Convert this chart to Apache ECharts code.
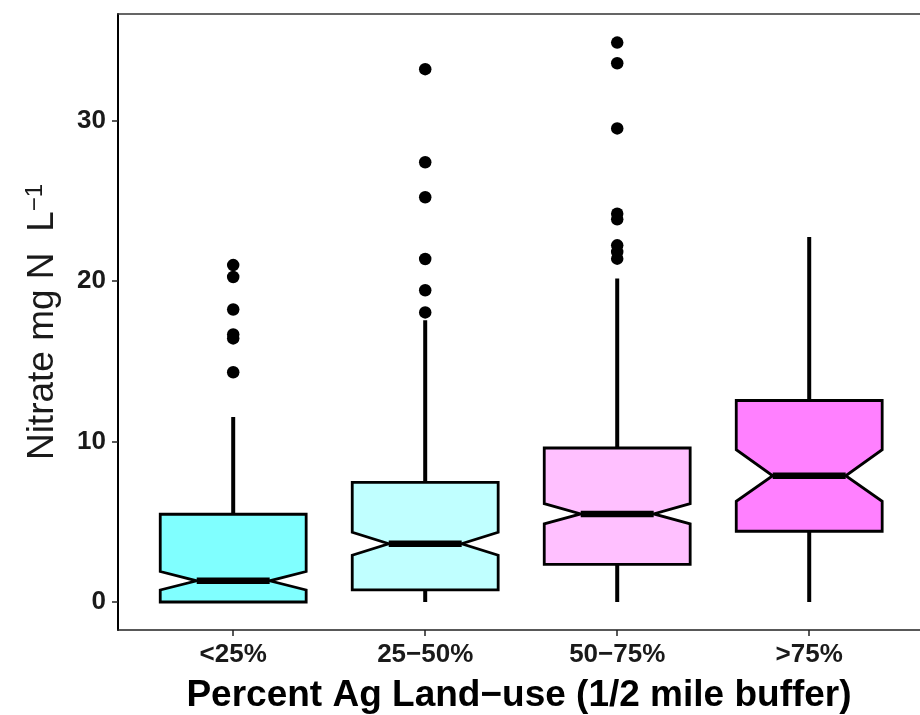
<!DOCTYPE html>
<html>
<head>
<meta charset="utf-8">
<script src="https://cdn.jsdelivr.net/npm/echarts@6/dist/echarts.min.js"></script>
<style>
html,body{margin:0;padding:0;background:#fff;}
#chart{width:920px;height:715px;}
</style>
</head>
<body>
<div id="chart"></div>
<script>
// ---- data ----
var categories = ['<25%', '25\u221250%', '50\u221275%', '>75%'];
var whiskerLow  = [0, 0, 0, 0];
var q1          = [0, 0.75, 2.34, 4.41];
var notchLow    = [0.75, 2.92, 4.87, 6.28];
var median      = [1.32, 3.63, 5.49, 7.87];
var notchHigh   = [1.9, 4.35, 6.13, 9.49];
var q3          = [5.47, 7.46, 9.6, 12.56];
var whiskerHigh = [11.53, 17.56, 20.16, 22.75];
var outliers0 = [21.0, 20.26, 18.23, 16.68, 16.43, 14.32];
var outliers1 = [33.21, 27.41, 25.23, 21.38, 19.43, 18.05];
var outliers2 = [34.87, 33.58, 29.52, 24.2, 23.85, 22.23, 21.82, 21.4];
var outliers3 = [];
var yTicks = [0, 10, 20, 30];
var boxColors = ['#80FFFF', '#C0FFFF', '#FFC0FF', '#FF80FF'];

// ---- build ----
var outlierLists = [outliers0, outliers1, outliers2, outliers3];
var boxData = categories.map(function (c, i) {
  return [i + 1, whiskerLow[i], q1[i], notchLow[i], median[i], notchHigh[i], q3[i], whiskerHigh[i]];
});
var outlierData = [];
outlierLists.forEach(function (list, i) {
  list.forEach(function (v) { outlierData.push([i + 1, v]); });
});

var HW = 0.38; // half box width in category units

function renderBox(params, api) {
  var i = params.dataIndex;
  var x = api.value(0);
  var wl = api.value(1), lo = api.value(2), nl = api.value(3), md = api.value(4),
      nh = api.value(5), hi = api.value(6), wh = api.value(7);
  function P(dx, v) { return api.coord([x + dx, v]); }
  var c = P(0, 0)[0];
  var pts = [
    P(-HW, hi), P(HW, hi), P(HW, nh), P(HW / 2, md), P(HW, nl), P(HW, lo),
    P(-HW, lo), P(-HW, nl), P(-HW / 2, md), P(-HW, nh)
  ];
  var children = [];
  children.push({
    type: 'line',
    shape: { x1: c, y1: P(0, hi)[1], x2: c, y2: P(0, wh)[1] },
    style: { stroke: '#000', lineWidth: 4 }
  });
  if (lo > wl) {
    children.push({
      type: 'line',
      shape: { x1: c, y1: P(0, lo)[1], x2: c, y2: P(0, wl)[1] },
      style: { stroke: '#000', lineWidth: 4 }
    });
  }
  children.push({
    type: 'polygon',
    shape: { points: pts },
    style: { fill: boxColors[i], stroke: '#000', lineWidth: 2.8, lineJoin: 'miter' }
  });
  var m1 = P(-HW / 2, md), m2 = P(HW / 2, md);
  children.push({
    type: 'line',
    shape: { x1: m1[0], y1: m1[1], x2: m2[0], y2: m2[1] },
    style: { stroke: '#000', lineWidth: 6.5 }
  });
  return { type: 'group', children: children };
}

var chart = echarts.init(document.getElementById('chart'));
var FONT = '"Liberation Sans", Arial, sans-serif';
chart.setOption({
  animation: false,
  backgroundColor: '#ffffff',
  grid: { left: 118, top: 14, right: 0, bottom: 85, containLabel: false, outerBoundsMode: 'none' },
  xAxis: [{
    type: 'value', min: 0.4, max: 4.577,
    axisLine: { show: true, onZero: false, lineStyle: { color: '#222', width: 1.6 } },
    axisTick: { show: true, length: 6, customValues: [1, 2, 3, 4], lineStyle: { color: '#222', width: 1.5 } },
    axisLabel: {
      customValues: [1, 2, 3, 4],
      formatter: function (v) { return categories[Math.round(v) - 1]; },
      fontFamily: FONT, fontWeight: 'bold', fontSize: 26, color: '#1a1a1a', margin: 12
    },
    splitLine: { show: false },
    name: 'Percent Ag Land\u2212use (1/2 mile buffer)',
    nameLocation: 'middle', nameGap: 47,
    nameTextStyle: { fontFamily: FONT, fontWeight: 'bold', fontSize: 37, color: '#000' }
  }, {
    type: 'value', min: 0.4, max: 4.577, position: 'top',
    axisLine: { show: true, onZero: false, lineStyle: { color: '#333', width: 1.6 } },
    axisTick: { show: false }, axisLabel: { show: false }, splitLine: { show: false }
  }],
  yAxis: {
    type: 'value', min: -1.745, max: 36.65,
    axisLine: { show: true, onZero: false, lineStyle: { color: '#000', width: 2 } },
    axisTick: { show: true, length: 6, customValues: yTicks, lineStyle: { color: '#222', width: 1.5 } },
    axisLabel: {
      customValues: yTicks,
      fontFamily: FONT, fontWeight: 'bold', fontSize: 26, color: '#1a1a1a', margin: 12
    },
    splitLine: { show: false },
    name: '{a|Nitrate mg N  L}{s|\u22121}',
    nameLocation: 'middle', nameGap: 55, nameRotate: 90,
    nameTextStyle: {
      rich: {
        a: { fontFamily: FONT, fontSize: 37, color: '#1a1a1a' },
        s: { fontFamily: FONT, fontSize: 24, color: '#1a1a1a', verticalAlign: 'top', padding: [0, 0, 16, 0] }
      }
    }
  },
  series: [
    {
      type: 'custom',
      renderItem: renderBox,
      data: boxData,
      encode: { x: 0, y: [1, 2, 3, 4, 5, 6, 7] },
      z: 2
    },
    {
      type: 'scatter',
      data: outlierData,
      symbol: 'circle',
      symbolSize: 12.5,
      itemStyle: { color: '#000', opacity: 1 },
      z: 3
    }
  ]
});
</script>
</body>
</html>
